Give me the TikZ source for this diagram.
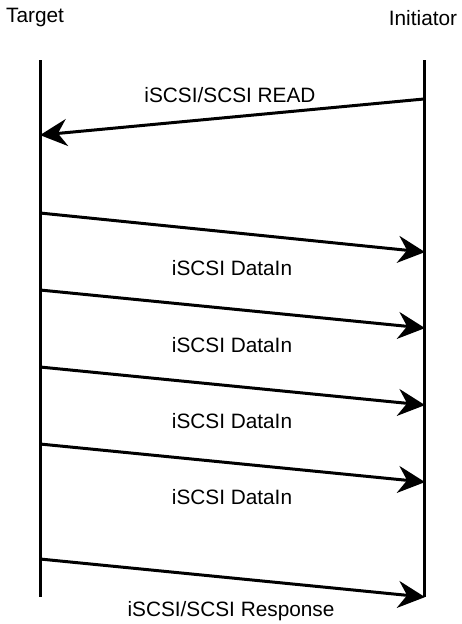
\documentclass[tikz,border=0pt]{standalone}
\usepackage{fontspec}
\setmainfont{Liberation Sans}
\usetikzlibrary{arrows.meta}
\begin{document}
\begin{tikzpicture}[x=1pt,y=-1pt,
  lbl/.style={font=\fontsize{20.8}{22}\selectfont, inner sep=0pt},
  lifeline/.style={line width=3pt},
  msg/.style={line width=3pt, -{Stealth[length=27pt,width=27pt,inset=9pt]}, shorten >=-1pt}]
\useasboundingbox (0,0) rectangle (461,624);
% actors
\node[lbl] (tgt) at (35,18) {Target};
\node[lbl] (ini) at (423,18) {Initiator};
% lifelines
\coordinate (tT) at (40,60);
\coordinate (tB) at (40,597);
\coordinate (iT) at (424,60);
\coordinate (iB) at (424,597);
\draw[lifeline] (tT) -- (tB);
\draw[lifeline] (iT) -- (iB);
% message end points
\coordinate (r1) at (424,99);  \coordinate (r2) at (41,135);
\coordinate (d1a) at (40,213); \coordinate (d1b) at (424,252);
\coordinate (d2a) at (40,290); \coordinate (d2b) at (424,328);
\coordinate (d3a) at (40,367); \coordinate (d3b) at (424,405);
\coordinate (d4a) at (40,444); \coordinate (d4b) at (424,482);
\coordinate (rsa) at (40,559); \coordinate (rsb) at (424,597);
% messages
\draw[msg] (r1) -- (r2);
\draw[msg] (d1a) -- (d1b);
\draw[msg] (d2a) -- (d2b);
\draw[msg] (d3a) -- (d3b);
\draw[msg] (d4a) -- (d4b);
\draw[msg] (rsa) -- (rsb);
% message labels
\node[lbl] (lr) at (230,95) {iSCSI/SCSI READ};
\node[lbl] (l1) at (232,268) {iSCSI DataIn};
\node[lbl] (l2) at (232,345) {iSCSI DataIn};
\node[lbl] (l3) at (232,421) {iSCSI DataIn};
\node[lbl] (l4) at (232,497) {iSCSI DataIn};
\node[lbl] (ls) at (231,611) {iSCSI/SCSI Response};
\end{tikzpicture}
\end{document}
